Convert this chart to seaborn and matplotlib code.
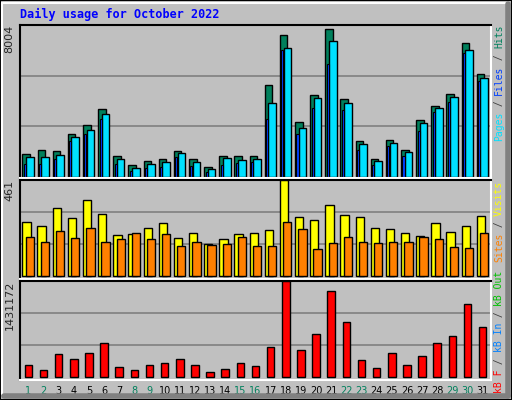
import matplotlib
matplotlib.use("Agg")
import matplotlib.pyplot as plt
import seaborn as sns
import numpy as np
import pandas as pd

days = list(range(1, 32))
weekend = [1, 2, 8, 9, 15, 16, 22, 23, 29, 30]
# values
hits_px = [460,448,451,400,376,328,466,493,481,475,451,475,499,466,466,466,256,108,367,286,88,298,421,475,418,448,361,319,283,132,223]
pages_px = [469,469,463,409,388,343,475,502,490,484,457,484,505,472,478,475,310,145,382,295,124,310,430,481,427,454,370,325,292,151,235]
files_px = [490,490,475,421,400,358,490,511,502,499,469,496,514,493,487,484,358,151,400,325,193,331,448,493,436,466,391,337,307,160,244]
visits_px = [133,145,94,121,70,109,172,169,151,136,181,166,196,184,169,166,157,12,118,127,85,112,118,151,154,166,175,136,163,145,115]
sites_px = [178,190,160,181,151,190,184,166,184,169,202,190,199,196,178,202,202,133,154,211,193,178,190,193,190,190,178,184,205,208,166]
kb_px = [552,567,520,535,517,490,559,567,552,547,535,552,571,565,547,556,502,313,508,463,340,430,538,562,517,552,526,490,469,379,445]

hits = [(530 - y) / 453 * 8004 for y in hits_px]
pages = [(530 - y) / 453 * 8004 for y in pages_px]
files = [(530 - y) / 453 * 8004 for y in files_px]
visits = [(290 - y) / 278 * 461 for y in visits_px]
sites = [(290 - y) / 278 * 461 for y in sites_px]
kbytes = [(587 - y) / 275 * 1431172 for y in kb_px]

sns.set_style("white")
plt.rcParams['font.family'] = ['DejaVu Sans Mono', 'DejaVu Sans']

W, H = 512, 400
fig = plt.figure(figsize=(W / 100, H / 100), dpi=100, facecolor="#C0C0C0")

fig.add_artist(plt.Rectangle((0, 0), 1, 1, transform=fig.transFigure, fill=False, ec="black", lw=1.5))
fig.add_artist(plt.Line2D([2/W, 2/W], [6/H, 1-3/H], transform=fig.transFigure, color="white", lw=1.5))
fig.add_artist(plt.Line2D([2/W, 1-6/W], [1-3/H, 1-3/H], transform=fig.transFigure, color="white", lw=1.5))
fig.add_artist(plt.Line2D([1-4/W, 1-4/W], [4/H, 1-4/H], transform=fig.transFigure, color="#808080", lw=4))
fig.add_artist(plt.Line2D([4/W, 1-4/W], [4/H, 4/H], transform=fig.transFigure, color="#808080", lw=4))

def mk(y0, y1):
    x0, x1 = 20, 491
    return fig.add_axes([x0 / W, 1 - y1 / H, (x1 - x0) / W, (y1 - y0) / H])

def style(ax, ymax, label, neg):
    ax.set_facecolor("#C0C0C0")
    ax.set_xlim(0.45, 31.55)
    ax.set_ylim(-ymax * neg, ymax)
    ax.set_yticks([ymax / 3, 2 * ymax / 3])
    ax.yaxis.grid(True, color="#808080", lw=1.2)
    ax.set_axisbelow(True)
    ax.set_yticklabels([])
    ax.tick_params(length=0)
    for s in ax.spines.values():
        s.set_linewidth(1.5)
    ax.spines['left'].set_color("black"); ax.spines['top'].set_color("black")
    ax.spines['right'].set_color("white"); ax.spines['bottom'].set_color("white")
    ax.text(-0.012, 1.0, label, transform=ax.transAxes, rotation=90, ha="right", va="top",
            fontsize=8, family="DejaVu Sans")

d = np.array(days)
ax1 = mk(25, 178)
ax1.bar(d - 0.14, hits, width=0.5, color="#00805C", ec="black", lw=1)
ax1.bar(d + 0.1, pages, width=0.5, color="#00E0FF", ec="black", lw=1)
ax1.bar(d - 0.23, files, width=0.14, color="#0040FF", ec="black", lw=0.8)
style(ax1, 8004, "8004", 0.005)
ax1.set_xticks([])

ax2 = mk(180, 279)
ax2.bar(d - 0.12, visits, width=0.55, color="#FFFF00", ec="black", lw=1)
ax2.bar(d + 0.1, sites, width=0.55, color="#FF8000", ec="black", lw=1)
style(ax2, 461, "461", 0.03)
ax2.set_xticks([])

ax3 = mk(281, 380)
df = pd.DataFrame({"day": days, "kB": kbytes})
sns.barplot(data=df, x="day", y="kB", native_scale=True, color="#FF0000", saturation=1,
            width=0.5, edgecolor="black", linewidth=1, ax=ax3)
style(ax3, 1431172, "1431172", 0.03)
ax3.set_xlabel(""); ax3.set_ylabel("")
ax3.set_xticks(days)
ax3.set_xticklabels([str(x) for x in days], fontsize=7, family="DejaVu Sans")
ax3.tick_params(axis="x", pad=4)
for t, x in zip(ax3.get_xticklabels(), days):
    t.set_color("#00805C" if x in weekend else "black")

fig.text(20 / W, 1 - 14 / H, "Daily usage for October 2022", color="#0000FF", fontsize=8.5,
         fontweight="bold", va="center", ha="left")

CH = 5.8  # px per char at fontsize 7 mono
def side(y_bottom, parts):
    y = y_bottom
    for t, c in parts:
        fig.text(494 / W, 1 - y / H, t, color=c, rotation=90, fontsize=7,
                 ha="left", va="bottom", family="DejaVu Sans Mono")
        y -= len(t) * CH

side(141, [("Pages", "#00E0FF"), (" / ", "#404040"), ("Files", "#0040FF"), (" / ", "#404040"), ("Hits", "#00805C")])
side(393, [("kB F", "#FF0000"), (" / ", "#404040"), ("kB In", "#0080FF"), (" / ", "#404040"), ("kB Out", "#00C000")])
side(262, [("Sites", "#FF8000"), (" / ", "#404040"), ("Visits", "#FFFF00")])

fig.savefig("out.png", dpi=100, facecolor=fig.get_facecolor())
